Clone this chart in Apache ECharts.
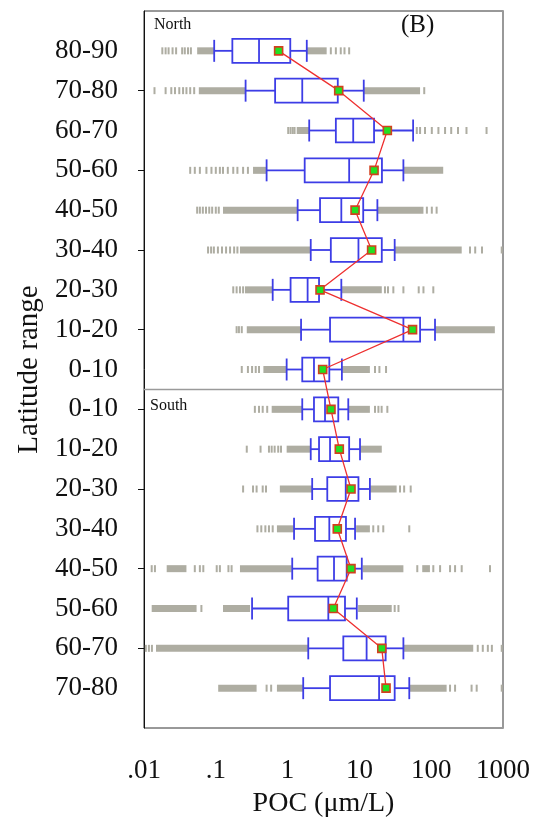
<!DOCTYPE html>
<html>
<head>
<meta charset="utf-8">
<script src="https://cdn.jsdelivr.net/npm/echarts@6/dist/echarts.min.js"></script>
<style>
html,body{margin:0;padding:0;background:#fff;}
#chart{width:535px;height:826px;}
</style>
</head>
<body>
<div id="chart"></div>
<script>
// ---- Data ----
const northLabels = ['80-90','70-80','60-70','50-60','40-50','30-40','20-30','10-20','0-10'];
const southLabels = ['0-10','10-20','20-30','30-40','40-50','50-60','60-70','70-80'];
const xTickLabels = ['.01','.1','1','10','100','1000'];

// rows: North 80-90 ... North 0-10, South 0-10 ... South 70-80
const whiskerLow  = [0.095,0.26,2.0,0.51,1.38,2.1,0.62,1.54,0.97, 1.6,2.1,2.2,1.23,1.16,0.32,1.94,1.65];
const q1          = [0.17,0.67,4.7,1.73,2.83,4.0,1.1,3.9,1.6, 2.33,2.74,3.57,2.41,2.62,1.02,5.97,3.9];
const median      = [0.4,1.6,8.2,7.2,5.6,9.7,1.9,41,2.33, 3.32,3.9,6.45,3.81,4.43,3.69,12.6,18.8];
const q3          = [1.09,5.0,16,20.6,11.3,20.5,2.74,70,3.81, 5.08,7.2,9.7,6.5,6.65,6.3,23.2,31];
const whiskerHigh = [1.85,11.5,56,41,17.8,31,5.6,113,5.7, 7.0,10.2,14,8.7,10.8,9.2,41,49.5];
const meanValues  = [0.75,5.15,24.5,16,8.7,14.8,2.83,55,3.08, 4.02,5.25,7.64,4.92,7.64,4.33,20.5,23.5];

// dense runs of outliers, [from, to]
const outlierRuns = [
  [[0.055,0.095],[1.85,3.5]],
  [[0.058,0.26],[11.5,70]],
  [[1.34,2.0]],
  [[0.33,0.51],[41,147]],
  [[0.126,1.38],[17.8,78]],
  [[0.217,2.1],[31,266]],
  [[0.255,0.62],[5.6,20.5]],
  [[0.27,1.54],[113,770]],
  [[0.46,0.97],[5.7,14]],
  [[0.6,1.6],[7.0,14]],
  [[0.97,2.1],[10.2,20.5]],
  [[0.78,2.2],[14,33]],
  [[0.71,1.23],[9.0,14]],
  [[0.0207,0.039],[0.217,1.14],[11.1,41],[75,96]],
  [[0.0128,0.054],[0.126,0.3],[9.6,28.2]],
  [[0.0147,1.94],[41,385]],
  [[0.108,0.37],[0.71,1.65],[49.5,164]]
];
// isolated outliers
const outlierPoints = [
  [0.018,0.02,0.022,0.025,0.028,0.034,0.037,0.041,0.045,4.0,4.7,5.5,6.2,7.2],
  [0.014,0.02,0.024,0.027,0.031,0.035,0.039,0.044,0.05,80],
  [1.02,1.1,1.18,1.25,63,70,82,102,126,156,190,236,310,590],
  [0.044,0.051,0.06,0.074,0.087,0.1,0.114,0.126,0.147,0.175,0.2,0.24,0.28],
  [0.055,0.06,0.066,0.073,0.081,0.089,0.1,0.11,87,102,119],
  [0.078,0.086,0.094,0.107,0.122,0.139,0.158,0.18,0.2,347,410,510,960],
  [0.175,0.195,0.217,0.24,22.7,25,29.7,41,67,78,107],
  [0.195,0.21,0.23],
  [0.23,0.28,0.32,0.36,0.4,16.5,19,23.5],
  [0.35,0.4,0.45,0.52,16.5,18.4,20.4,24.5],
  [0.27,0.42,0.55,0.6,0.66,0.74,0.81],
  [0.24,0.33,0.37,0.45,0.5,36.8,42,51.8],
  [0.38,0.43,0.49,0.55,0.62,15.6,18.3,21.5,49.5],
  [0.0128,0.0142,0.051,0.06,0.067,0.103,0.114,0.15,0.166,64,107,133,183,215,266,659],
  [0.063,31,35],
  [0.0106,0.0117,0.0129,445,523,615,700,960],
  [0.51,0.59,183,215,365,430,960]
];

// ---- Build ----
const rowKeys = [...northLabels.map(l => 'N ' + l), ...southLabels.map(l => 'S ' + l)];
const yCats = ['top', ...rowKeys, 'bottom'];
const FONT = "'Liberation Serif','Times New Roman',serif";
const BLUE = '#3d3de6';
const GREY = '#aeada2';

const boxData = rowKeys.map((k, i) => [i + 1, whiskerLow[i], q1[i], median[i], q3[i], whiskerHigh[i]]);
const runData = [];
outlierRuns.forEach((runs, i) => runs.forEach(r => runData.push([i + 1, r[0], r[1]])));
const pointData = [];
outlierPoints.forEach((pts, i) => pts.forEach(v => pointData.push([v, i + 1])));
const meanData = meanValues.map((v, i) => [v, i + 1]);

const chart = echarts.init(document.getElementById('chart'), null, {renderer: 'canvas'});
chart.setOption({
  animation: false,
  backgroundColor: '#fff',
  grid: {left: 144, top: 11, width: 359, height: 717, show: true, borderColor: '#333', borderWidth: 1},
  xAxis: {
    type: 'log', logBase: 10, min: 0.01, max: 1000,
    name: 'POC (μm/L)', nameLocation: 'middle', nameGap: 62,
    nameTextStyle: {fontFamily: FONT, fontSize: 28, color: '#111'},
    axisLine: {lineStyle: {color: '#111', width: 1}},
    axisTick: {inside: false, length: 6, lineStyle: {color: '#111'}},
    axisLabel: {
      margin: 29, fontFamily: FONT, fontSize: 27, color: '#111',
      formatter: v => xTickLabels[Math.round(Math.log10(v)) + 2]
    },
    splitLine: {show: false},
    minorTick: {show: false}
  },
  yAxis: [{
    type: 'category', inverse: true, boundaryGap: false, data: yCats,
    name: 'Latitude range', nameLocation: 'middle', nameGap: 100, nameRotate: 90,
    nameTextStyle: {fontFamily: FONT, fontSize: 29, color: '#111'},
    axisLine: {lineStyle: {color: '#111', width: 1}},
    axisTick: {
      length: 6, lineStyle: {color: '#111'},
      interval: (idx) => idx >= 2 && idx <= 16 && idx % 2 === 0
    },
    axisLabel: {
      interval: 0, margin: 26, fontFamily: FONT, fontSize: 27, color: '#111',
      formatter: v => (v === 'top' || v === 'bottom') ? '' : v.slice(2)
    },
    splitLine: {show: false}
  }, {
    type: 'category', inverse: true, boundaryGap: false, data: yCats, position: 'right',
    axisLine: {lineStyle: {color: '#999', width: 2}},
    axisTick: {show: false}, axisLabel: {show: false}, splitLine: {show: false}
  }],
  graphic: [
    {type: 'text', left: 154, top: 17, style: {text: 'North', font: "16px 'Liberation Serif', serif", fill: '#111'}},
    {type: 'text', left: 150, top: 398, style: {text: 'South', font: "16px 'Liberation Serif', serif", fill: '#111'}},
    {type: 'text', left: 401, top: 13, style: {text: '(B)', font: "25px 'Liberation Serif', serif", fill: '#111'}}
  ],
  series: [
    {
      // North / South separator
      type: 'custom', z: 1, silent: true,
      data: [[9, 10]],
      encode: {y: [0, 1]},
      renderItem: (params, api) => {
        const a = api.coord([0.01, api.value(0)]);
        const b = api.coord([1000, api.value(1)]);
        const y = (a[1] + b[1]) / 2;
        return {type: 'line', shape: {x1: a[0], y1: y, x2: b[0], y2: y}, style: {stroke: '#9a9a9a', lineWidth: 1.5}};
      }
    },
    {
      type: 'custom', z: 2, silent: true,
      data: runData,
      encode: {y: 0, x: [1, 2]},
      renderItem: (params, api) => {
        const y = api.value(0);
        const a = api.coord([api.value(1), y]);
        const b = api.coord([api.value(2), y]);
        const w = Math.max(2, b[0] - a[0]);
        return {type: 'rect', shape: {x: a[0], y: a[1] - 3.5, width: w, height: 7}, style: {fill: GREY}};
      }
    },
    {
      type: 'scatter', z: 2, silent: true,
      symbol: 'rect', symbolSize: [2, 7],
      itemStyle: {color: GREY, opacity: 1},
      data: pointData
    },
    {
      type: 'custom', z: 3, silent: true,
      data: boxData,
      encode: {y: 0, x: [1, 2, 3, 4, 5]},
      renderItem: (params, api) => {
        const y = api.value(0);
        const p = v => api.coord([v, y]);
        const lo = p(api.value(1)), a = p(api.value(2)), m = p(api.value(3)), b = p(api.value(4)), hi = p(api.value(5));
        const cy = lo[1];
        const h = api.size([0, 1])[1] * 0.6;
        const ch = h * 0.92;
        const ls = {stroke: BLUE, lineWidth: 1.8, fill: null};
        return {type: 'group', children: [
          {type: 'line', shape: {x1: lo[0], y1: cy, x2: a[0], y2: cy}, style: ls},
          {type: 'line', shape: {x1: b[0], y1: cy, x2: hi[0], y2: cy}, style: ls},
          {type: 'line', shape: {x1: lo[0], y1: cy - ch / 2, x2: lo[0], y2: cy + ch / 2}, style: ls},
          {type: 'line', shape: {x1: hi[0], y1: cy - ch / 2, x2: hi[0], y2: cy + ch / 2}, style: ls},
          {type: 'rect', shape: {x: a[0], y: cy - h / 2, width: b[0] - a[0], height: h}, style: {stroke: BLUE, lineWidth: 1.8, fill: '#fff'}},
          {type: 'line', shape: {x1: m[0], y1: cy - h / 2, x2: m[0], y2: cy + h / 2}, style: ls}
        ]};
      }
    },
    {
      type: 'line', z: 4, silent: true,
      data: meanData, symbol: 'none',
      lineStyle: {color: '#ee3030', width: 1.3}
    },
    {
      type: 'scatter', z: 5, silent: true,
      data: meanData, symbol: 'rect', symbolSize: 8,
      itemStyle: {color: '#22e022', borderColor: '#d2401e', borderWidth: 1.6, opacity: 1}
    }
  ]
});
</script>
</body>
</html>
